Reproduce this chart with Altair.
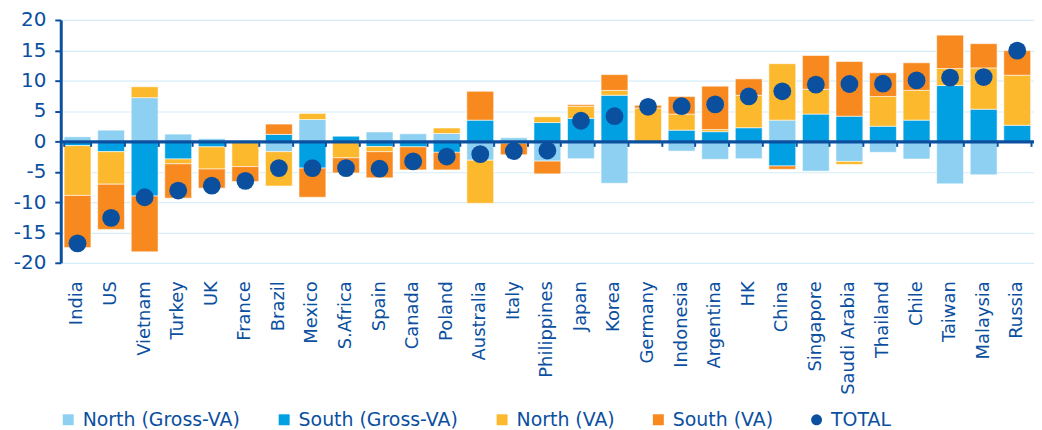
import altair as alt
import pandas as pd

countries = ["India", "US", "Vietnam", "Turkey", "UK", "France", "Brazil", "Mexico",
             "S.Africa", "Spain", "Canada", "Poland", "Australia", "Italy", "Philippines",
             "Japan", "Korea", "Germany", "Indonesia", "Argentina", "HK", "China",
             "Singapore", "Saudi Arabia", "Thailand", "Chile", "Taiwan", "Malaysia", "Russia"]

north_gross = [0.75, 1.85, 7.2, 1.2, 0.45, 0, -1.7, 3.6, 0, 1.55,
               1.25, 1.3, -3.1, 0.6, -3.25, -2.85, -6.9, -0.3, -1.6, -2.95,
               -2.85, 3.5, -4.9, -3.3, -1.8, -2.9, -7.0, -5.5, 0]
south_gross = [-0.7, -1.7, -9.0, -2.9, -0.9, 0, 1.15, -4.4, 0.85, -0.85,
               -0.9, -1.8, 3.5, 0, 3.1, 3.8, 7.6, 0, 1.85, 1.6,
               2.25, -4.05, 4.5, 4.15, 2.5, 3.5, 9.2, 5.3, 2.65]
north_va = [-8.2, -5.35, 1.8, -0.8, -3.65, -4.15, -5.65, 1.0, -2.7, -0.85,
            0, 0.9, -7.1, -0.3, 0.95, 2.0, 0.8, 5.5, 2.65, 0.35,
            5.35, 9.3, 4.1, -0.5, 4.9, 4.9, 2.8, 6.8, 8.25]
south_va = [-8.6, -7.45, -9.2, -5.65, -3.15, -2.45, 1.7, -4.8, -2.5, -4.3,
            -3.8, -2.9, 4.75, -1.9, -2.1, 0.25, 2.6, 0.45, 2.9, 7.15,
            2.7, -0.55, 5.55, 9.0, 3.9, 4.55, 5.5, 4.0, 4.05]
total = [-16.8, -12.6, -9.2, -8.1, -7.3, -6.5, -4.4, -4.4, -4.4, -4.5,
         -3.3, -2.5, -2.1, -1.6, -1.5, 3.4, 4.15, 5.7, 5.8, 6.1,
         7.4, 8.25, 9.35, 9.45, 9.5, 10.05, 10.5, 10.6, 14.95]
y_ticks = [-20, -15, -10, -5, 0, 5, 10, 15, 20]

series_names = ["North (Gross-VA)", "South (Gross-VA)", "North (VA)", "South (VA)", "TOTAL"]
series_colors = ["#8DD0F2", "#00A0E3", "#FDB92D", "#F7891E", "#0B4F9F"]
series_shapes = ["square", "square", "square", "square", "circle"]

DARK = "#0B4F9F"
FONT = "DejaVu Sans"

rows = []
for name, vals in zip(series_names[:4], [north_gross, south_gross, north_va, south_va]):
    for c, v in zip(countries, vals):
        if v != 0:
            rows.append({"country": c, "series": name, "value": v,
                         "ord": series_names.index(name)})
bars_df = pd.DataFrame(rows)
total_df = pd.DataFrame({"country": countries, "series": "TOTAL", "value": total})

color_scale = alt.Scale(domain=series_names, range=series_colors)
shape_scale = alt.Scale(domain=series_names, range=series_shapes)
x_scale = alt.Scale(paddingInner=0.2, paddingOuter=0.1)
y_scale = alt.Scale(domain=[-20, 20], nice=False)

y_axis = alt.Axis(values=y_ticks, title=None, labelFont=FONT,
                  labelFontSize=20, labelColor=DARK, labelPadding=9,
                  labelOverlap=False, labelFlush=False,
                  tickSize=6, tickWidth=2, tickColor=DARK,
                  domainWidth=3, domainColor=DARK,
                  gridColor="#D5EDF8", gridWidth=1.2,
                  labelExpr="'' + datum.value")

bars = alt.Chart(bars_df).mark_bar(stroke="white", strokeWidth=0.8, strokeOpacity=0.7).encode(
    x=alt.X("country:N", sort=countries, scale=x_scale,
            axis=alt.Axis(orient="bottom", title=None, labelAngle=270, labelFont=FONT,
                          labelFontSize=18, labelColor=DARK, labelPadding=18,
                          domain=False, ticks=False, grid=False)),
    y=alt.Y("value:Q", stack="zero", scale=y_scale, axis=y_axis),
    color=alt.Color("series:N", scale=color_scale, title=None),
    order=alt.Order("ord:Q", sort="ascending"),
)

points = alt.Chart(total_df).mark_point(filled=True, size=320, opacity=1).encode(
    x=alt.X("country:N", sort=countries, scale=x_scale,
            axis=alt.Axis(orient="bottom", offset=-122, labels=False, title=None,
                          domain=True, domainWidth=3.5, domainColor=DARK,
                          ticks=True, tickBand="extent", tickSize=5, tickWidth=2,
                          tickColor=DARK, grid=False, zindex=1)),
    y=alt.Y("value:Q", scale=y_scale, axis=y_axis),
    color=alt.Color("series:N", scale=color_scale, title=None),
    shape=alt.Shape("series:N", scale=shape_scale, title=None),
)

chart = alt.layer(bars, points).resolve_axis(x="independent").properties(
    width=978, height=244,
    padding={"left": 5, "top": 1, "right": 0, "bottom": 0},
).configure_view(strokeWidth=0).configure_legend(
    orient="none", legendX=-2, legendY=392, direction="horizontal",
    columnPadding=34, labelOffset=5, symbolSize=121, symbolStrokeWidth=0,
    labelFont=FONT, labelFontSize=19, labelColor=DARK, labelLimit=400, padding=0,
)

chart.save("out.html", embed_options={"renderer": "svg", "actions": False})
